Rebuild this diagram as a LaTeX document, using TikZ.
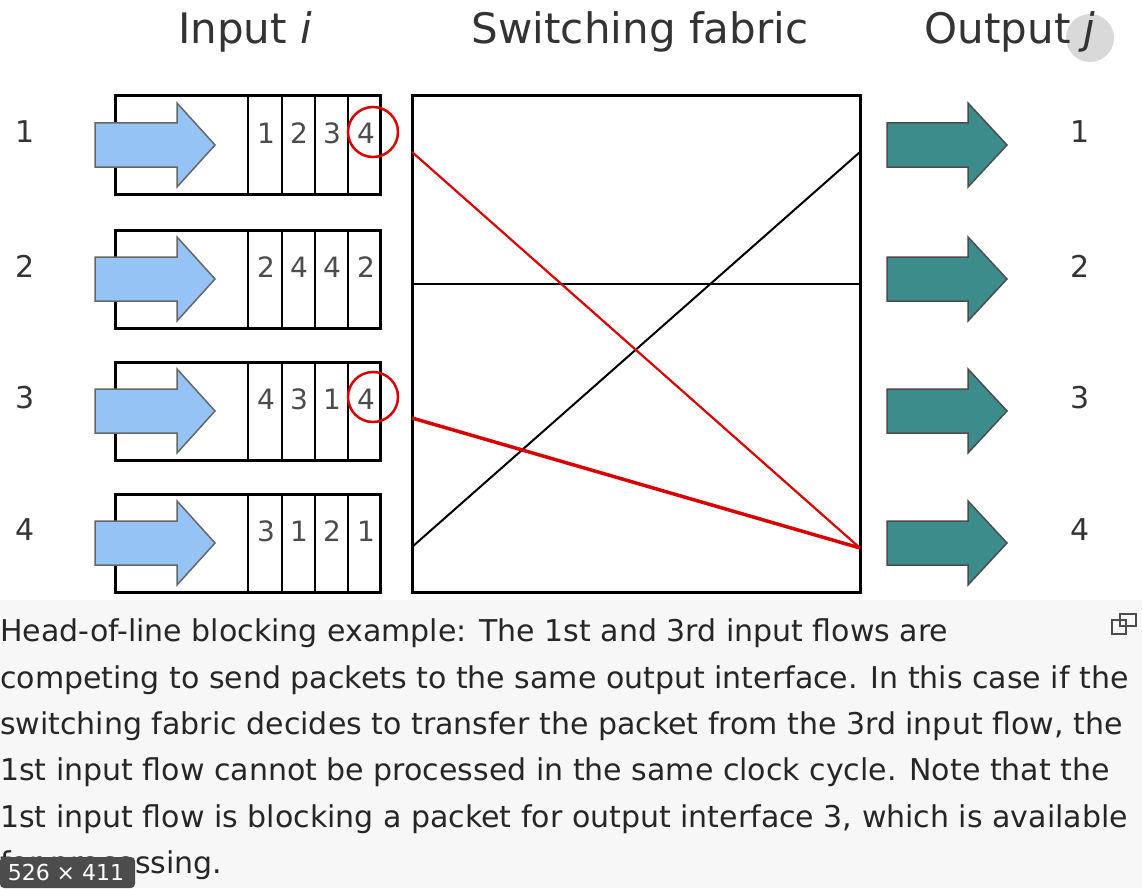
\documentclass[tikz,border=0pt]{standalone}
\usepackage{fontspec}
\setmainfont{DejaVu Sans}
\begin{document}
\begin{tikzpicture}[x=1pt,y=-1pt,
 box/.style={draw,line width=3pt},
 title/.style={font=\fontsize{42}{42}\selectfont,text=black!80},
 lab/.style={font=\fontsize{30}{30}\selectfont,text=black!80},
 cell/.style={font=\fontsize{28}{28}\selectfont,text=black!70},
 captxt/.style={font=\fontsize{30}{30}\selectfont,anchor=west,inner sep=0pt,text=black!85},
 inarr/.style={fill={rgb,255:red,150;green,195;blue,245},draw=black!60,line width=1.5pt},
 outarr/.style={fill={rgb,255:red,60;green,140;blue,140},draw=black!70,line width=1.5pt}]
\useasboundingbox (0,0) rectangle (1142,888);
\fill[white] (0,0) rectangle (1142,600);
\fill[black!3] (0,600) rectangle (1142,888);
\node[title] (ti) at (245,32) {Input \textit{i}};
\node[title] (ts) at (640,32) {Switching fabric};
\fill[black!15] (1090,38) circle (24);
\node[title] (to) at (1010,32) {Output \textit{j}};
\foreach \r/\y/\a/\b/\c/\d in {1/96/1/2/3/4,2/230/2/4/4/2,3/362/4/3/1/4,4/494/3/1/2/1}{
 \draw[box] (115,\y) rectangle (380,\y+98);
 \foreach \x in {248,282,315,348} \draw[line width=2pt] (\x,\y) -- (\x,\y+98);
 \node[cell] at (266,\y+37) {\a};
 \node[cell] at (299,\y+37) {\b};
 \node[cell] at (332,\y+37) {\c};
 \node[cell] at (366,\y+37) {\d};
 \node[lab] at (25,\y+36) {\r};
 \node[lab] at (1080,\y+36) {\r};
 \draw[inarr] (95,\y+27) -- (177,\y+27) -- (177,\y+7) -- (215,\y+49) -- (177,\y+91) -- (177,\y+71) -- (95,\y+71) -- cycle;
 \draw[outarr] (887,\y+27) -- (968,\y+27) -- (968,\y+7) -- (1007,\y+49) -- (968,\y+91) -- (968,\y+71) -- (887,\y+71) -- cycle;
}
\draw[box] (412,96) rectangle (860,592);
\draw[line width=2.5pt] (412,284) -- (860,284);
\coordinate (a1) at (412,152); \coordinate (a3) at (412,418);
\coordinate (a4) at (412,547); \coordinate (b1) at (860,152); \coordinate (b4) at (860,548);
\draw[line width=2pt] (a4) -- (b1);
\draw[red!85!black,line width=2.2pt] (a1) -- (b4);
\draw[red!85!black,line width=3.5pt] (a3) -- (b4);
\draw[red!85!black,line width=2.5pt] (373,132) circle (25) (373,397) circle (25);
\node[captxt] at (0,633) {Head-of-line blocking example: The 1st and 3rd input flows are};
\node[captxt] at (0,680) {competing to send packets to the same output interface. In this case if the};
\node[captxt] at (0,726) {switching fabric decides to transfer the packet from the 3rd input flow, the};
\node[captxt] at (0,772) {1st input flow cannot be processed in the same clock cycle. Note that the};
\node[captxt] at (0,819) {1st input flow is blocking a packet for output interface 3, which is available};
\node[captxt] at (0,865) {for processing.};
\draw[black!70,line width=1.5pt] (1112,620) rectangle (1126,634) (1120,614) rectangle (1136,626);
\fill[black!70,rounded corners=4pt] (0,857) rectangle (135,888);
\node[font=\fontsize{22}{22}\selectfont,text=white] at (66,872) {526 × 411};
\end{tikzpicture}
\end{document}
